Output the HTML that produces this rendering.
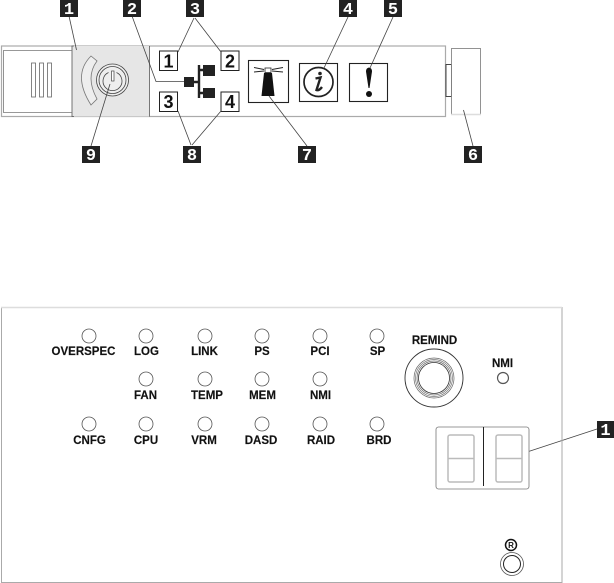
<!DOCTYPE html>
<html><head><meta charset="utf-8"><style>
html,body{margin:0;padding:0;background:#fff}
svg{display:block}
text{font-family:"Liberation Sans",sans-serif;font-weight:bold}
.l{font-size:11.500px;fill:#111;text-anchor:middle;stroke:#111;stroke-width:.15}
.b{font-size:17px;fill:#fff;text-anchor:middle;font-family:"Liberation Mono",monospace}
.n{font-size:18px;fill:#111;text-anchor:middle}
.led{fill:#fff;stroke:#555;stroke-width:.8}
.ln{stroke:#444;stroke-width:.8;fill:none}
.seg{fill:none;stroke:#bbb;stroke-width:1.500}
</style></head><body>
<svg width="614" height="583" viewBox="0 0 614 583" xmlns="http://www.w3.org/2000/svg">
<!-- top panel -->
<rect x="1.500" y="46" width="444" height="70.500" fill="#fff" stroke="#aaa" stroke-width="1.200"/>
<rect x="72" y="46" width="77" height="70.500" fill="#e6e6e6" stroke="none"/>
<path d="M74 46H72V116.500H74" fill="none" stroke="#555" stroke-width=".8"/>
<line x1="149.500" y1="46" x2="149.500" y2="116.500" stroke="#555" stroke-width=".8"/>
<path d="M72 50.500H3.500V112.500H72" fill="none" stroke="#777" stroke-width=".8"/>
<rect x="31.500" y="63" width="4" height="34" fill="#fff" stroke="#666" stroke-width=".8"/>
<rect x="39.500" y="63" width="4" height="34" fill="#fff" stroke="#666" stroke-width=".8"/>
<rect x="47.500" y="63" width="4" height="34" fill="#fff" stroke="#666" stroke-width=".8"/>
<path d="M91 56 Q72 75 91 105 L97 99 Q85 77 97 61 Z" fill="#eee" stroke="#777" stroke-width=".8"/>
<circle cx="112.500" cy="80" r="16" fill="#eee" stroke="#444" stroke-width=".8"/>
<circle cx="112.500" cy="80" r="13.500" fill="#eee" stroke="#444" stroke-width=".8"/>
<path d="M108.500 72.500A9.500 9.500 0 1 0 116.500 72.500" fill="none" stroke="#444" stroke-width=".8"/>
<rect x="111.500" y="71" width="2.500" height="10" fill="#fff" stroke="#444" stroke-width=".7"/>
<!-- network icon -->
<rect x="159.500" y="51" width="18" height="19.500" fill="#fff" stroke="#222"/>
<text class="n" x="168.500" y="67.500">1</text>
<rect x="221" y="51" width="18" height="19.500" fill="#fff" stroke="#222"/>
<text class="n" x="230" y="67.500">2</text>
<rect x="159.500" y="92" width="18" height="19.500" fill="#fff" stroke="#222"/>
<text class="n" x="168.500" y="108">3</text>
<rect x="221" y="92" width="18" height="19.500" fill="#fff" stroke="#222"/>
<text class="n" x="230" y="108">4</text>
<rect x="184" y="77" width="10" height="10" fill="#222"/>
<rect x="203" y="65" width="12" height="11" fill="#222"/>
<rect x="203" y="88" width="12" height="10" fill="#222"/>
<path d="M194 82H199M199 65V98M199 70H204M199 93H204" stroke="#222" stroke-width="2.400" fill="none"/>
<!-- lighthouse -->
<rect x="248.500" y="60.500" width="40" height="42" fill="#fff" stroke="#222" stroke-width="1.100"/>
<path d="M264 73H272L274.500 96H261.500Z" fill="#111"/>
<rect x="265" y="68" width="6" height="4.500" fill="#fff" stroke="#222" stroke-width=".8"/>
<path d="M254 67.500L264 69.500M254 72L264 71M283 67.500L272 69.500M283 72L272 71" stroke="#222" stroke-width=".9"/>
<!-- info -->
<rect x="299.500" y="63.500" width="38" height="38" fill="#fff" stroke="#222" stroke-width="1.100"/>
<circle cx="318.500" cy="82" r="14.500" fill="#fff" stroke="#222" stroke-width="1.700"/>
<circle cx="320" cy="73.500" r="1.800" fill="#222"/>
<path d="M315.500 78.500L320.500 77.500L316.500 90Q319 91 322 87" fill="none" stroke="#222" stroke-width="2.400"/>
<!-- warn -->
<rect x="349.500" y="63.500" width="38" height="38" fill="#fff" stroke="#222" stroke-width="1.100"/>
<path d="M369 67.500Q372 68 372 71.500L369.500 88H368.500L366 71.500Q366 68 369 67.500Z" fill="#111"/>
<circle cx="369" cy="94" r="3" fill="#111"/>
<!-- latch -->
<rect x="446" y="64.500" width="5.500" height="32" fill="#fff" stroke="#333" stroke-width=".9"/>
<rect x="451.500" y="48.500" width="29" height="66" fill="#fff" stroke="#777" stroke-width=".8"/>
<line x1="451" y1="114.500" x2="481" y2="114.500" stroke="#ddd" stroke-width="1.500"/>
<!-- leaders -->
<g class="ln">
<path d="M69 16L76.500 50"/>
<path d="M132 16L156 81.500H184"/>
<path d="M194 18L178 52M195 18L221 52"/>
<path d="M178 111L191 145M221 111L192 145"/>
<path d="M307 146L269 96"/>
<path d="M348 17L324 68"/>
<path d="M393 17L370 68"/>
<path d="M473 146L463.500 110"/>
<path d="M91 146L110 84"/>
<path d="M597 429L524 453"/>
</g>
<!-- callouts -->
<g>
<rect x="60" y="0" width="18" height="17" fill="#222"/><text class="b" x="69" y="14">1</text>
<rect x="123" y="0" width="18" height="17" fill="#222"/><text class="b" x="132" y="14">2</text>
<rect x="186" y="0" width="18" height="17" fill="#222"/><text class="b" x="195" y="14">3</text>
<rect x="339" y="0" width="18" height="17" fill="#222"/><text class="b" x="348" y="14">4</text>
<rect x="384" y="0" width="18" height="17" fill="#222"/><text class="b" x="393" y="14">5</text>
<rect x="464" y="146" width="18" height="17" fill="#222"/><text class="b" x="473" y="160">6</text>
<rect x="298" y="146" width="18" height="17" fill="#222"/><text class="b" x="307" y="160">7</text>
<rect x="183" y="146" width="18" height="17" fill="#222"/><text class="b" x="192" y="160">8</text>
<rect x="82" y="146" width="18" height="17" fill="#222"/><text class="b" x="91" y="160">9</text>
<rect x="597" y="421" width="17" height="17" fill="#222"/><text class="b" x="605.500" y="435">1</text>
</g>
<!-- bottom panel -->
<path d="M1.500 583V307.500H562V582.500H1.500" fill="none" stroke="#aaa" stroke-width="1"/>
<line x1="1" y1="307.500" x2="562" y2="307.500" stroke="#ddd" stroke-width="1.500"/>
<g>
<circle class="led" cx="89" cy="336" r="7"/><circle class="led" cx="146" cy="336" r="7"/><circle class="led" cx="205" cy="336" r="7"/><circle class="led" cx="262" cy="336" r="7"/><circle class="led" cx="320" cy="336" r="7"/><circle class="led" cx="377" cy="336" r="7"/>
<circle class="led" cx="146" cy="379" r="7"/><circle class="led" cx="205" cy="379" r="7"/><circle class="led" cx="262" cy="379" r="7"/><circle class="led" cx="320" cy="379" r="7"/>
<circle class="led" cx="89" cy="424" r="7"/><circle class="led" cx="146" cy="424" r="7"/><circle class="led" cx="205" cy="424" r="7"/><circle class="led" cx="262" cy="424" r="7"/><circle class="led" cx="320" cy="424" r="7"/><circle class="led" cx="377" cy="424" r="7"/>
</g>
<g>
<text class="l" x="83.500" y="355">OVERSPEC</text><text class="l" x="146.500" y="355">LOG</text><text class="l" x="204.500" y="355">LINK</text><text class="l" x="262" y="355">PS</text><text class="l" x="320" y="355">PCI</text><text class="l" x="377.500" y="355">SP</text>
<text class="l" x="145.500" y="399">FAN</text><text class="l" x="207" y="399">TEMP</text><text class="l" x="262.500" y="399">MEM</text><text class="l" x="320.500" y="399">NMI</text>
<text class="l" x="89.500" y="444">CNFG</text><text class="l" x="146" y="444">CPU</text><text class="l" x="204" y="444">VRM</text><text class="l" x="261" y="444">DASD</text><text class="l" x="321" y="444">RAID</text><text class="l" x="379" y="444">BRD</text>
<text class="l" x="434.500" y="344">REMIND</text><text class="l" x="502.500" y="367">NMI</text>
</g>
<circle cx="434" cy="378" r="29" fill="#fff" stroke="#333" stroke-width=".9"/>
<circle cx="434" cy="378" r="20" fill="#fff" stroke="#666" stroke-width=".7"/>
<circle cx="434" cy="378" r="18.500" fill="#fff" stroke="#777" stroke-width=".7"/>
<circle cx="434" cy="378" r="17" fill="#fff" stroke="#666" stroke-width=".7"/>
<circle cx="434" cy="378" r="15.500" fill="#fff" stroke="#333" stroke-width=".8"/>
<circle cx="503" cy="378" r="5.500" fill="#fff" stroke="#555" stroke-width="1.200"/>
<!-- display -->
<rect x="436" y="427" width="93" height="62" rx="2.500" fill="#fff" stroke="#777" stroke-width=".8"/>
<line x1="483.500" y1="427" x2="483.500" y2="486" stroke="#222" stroke-width="1"/>
<rect x="448" y="435" width="26" height="47" rx="2" class="seg"/><line x1="448" y1="458.500" x2="474" y2="458.500" class="seg"/>
<rect x="496" y="435" width="26" height="47" rx="2" class="seg"/><line x1="496" y1="458.500" x2="522" y2="458.500" class="seg"/>
<!-- reset -->
<circle cx="511" cy="545" r="5.500" fill="#fff" stroke="#111" stroke-width="1.500"/>
<text x="511" y="548" text-anchor="middle" font-size="8" fill="#111">R</text>
<circle cx="512" cy="564" r="11.500" fill="#fff" stroke="#555" stroke-width=".8"/>
<circle cx="512" cy="564" r="8.500" fill="#fff" stroke="#222" stroke-width="1"/>
</svg>
</body></html>
